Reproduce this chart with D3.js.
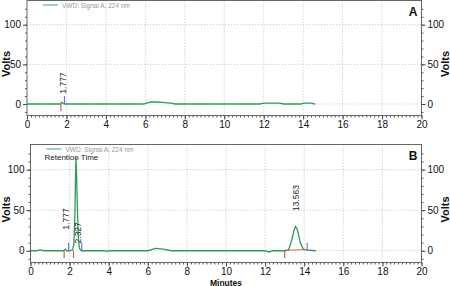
<!DOCTYPE html>
<html><head><meta charset="utf-8">
<script src="https://cdn.jsdelivr.net/npm/d3@7"></script>
<style>body{margin:0;background:#fff}svg{display:block}text{font-family:"Liberation Sans",Arial,sans-serif}</style>
</head><body><svg id="c" width="450" height="286"></svg>
<script>
// ---- data ----
const xTicks = [0,2,4,6,8,10,12,14,16,18,20];
const yTicks = [0,50,100];
const legendText = "VWD: Signal A, 224 nm";

const timeA  = [0,1.70,1.75,1.78,1.83,1.90,5.9,6.1,6.3,6.6,6.9,7.1,7.3,7.5,11.8,12.0,12.8,13.0,13.9,14.0,14.4,14.6];
const valueA = [0,0,1.5,2,1,0,0,1.5,2.5,2.5,2,1.5,1,0,0,1,1,0,0,1,1,0];

const timeB  = [0,0.3,0.5,0.7,1.0,1.7,1.78,1.85,2.0,2.15,2.22,2.27,2.31,2.33,2.36,2.40,2.45,2.50,2.60,3.8,3.9,4.0,6.0,6.4,6.8,7.2,12.0,12.2,12.4,13.0,13.2,13.35,13.5,13.56,13.65,13.8,13.95,14.1,14.6];
const valueB = [0,0,1,0,0,0,2,0,0,1,8,45,100,115,90,50,15,3,0,0,-1,0,0,3,2,0,0,-1.5,0,0,1,12,27,30,26,10,2,1,0];

// peak markers: [time, type] start = red down, end = blue up
const markersA = [[1.72,"s"],[1.90,"e"]];
const markersB = [[1.72,"s"],[1.95,"e"],[2.20,"s"],[2.62,"e"],[13.0,"s"],[14.15,"e"]];
const labelsA = [[1.80,"1.777",13]];
const labelsB = [[1.80,"1.777",26],[2.42,"2.327",9],[13.56,"13.563",49]];
const baselineB = [[13.0,0.5],[14.15,1.5]];

// ---- drawing ----
const svg = d3.select("#c");
const green = "#2f9b5c";

function panel(cfg){
  const x = d3.scaleLinear().domain([0,20]).range([cfg.x0,cfg.x1]);
  const y = d3.scaleLinear().domain([-14.5,cfg.ymax]).range([cfg.y1,cfg.y0]);
  const g = svg.append("g");
  // grid
  g.selectAll(".gx").data(xTicks.slice(1,-1)).join("line")
    .attr("x1",d=>x(d)).attr("x2",d=>x(d)).attr("y1",cfg.y0).attr("y2",cfg.y1)
    .attr("stroke","#bbb").attr("stroke-width",0.8).attr("stroke-dasharray","1.2,1.8");
  g.selectAll(".gy").data(yTicks).join("line")
    .attr("x1",cfg.x0).attr("x2",cfg.x1).attr("y1",d=>y(d)).attr("y2",d=>y(d))
    .attr("stroke","#bbb").attr("stroke-width",0.8).attr("stroke-dasharray","1.2,1.8");
  // axes
  const xa = g.append("g").attr("transform",`translate(0,${cfg.y1})`)
    .call(d3.axisBottom(x).tickValues(d3.range(0,20.01,0.2)).tickSize(2).tickFormat(""));
  xa.select(".domain").remove();
  xa.selectAll("line").attr("stroke","#555");
  const xb = g.append("g").attr("transform",`translate(0,${cfg.y1})`)
    .call(d3.axisBottom(x).tickValues(xTicks).tickSize(4).tickPadding(1.5).tickFormat(d3.format("d")));
  xb.select(".domain").remove();
  xb.selectAll("line").attr("stroke","#444");
  xb.selectAll("text").attr("font-size","10px").attr("fill","#111");
  [["l",d3.axisLeft,cfg.x0],["r",d3.axisRight,cfg.x1]].forEach(([k,fn,px])=>{
    const m = g.append("g").attr("transform",`translate(${px},0)`)
      .call(fn(y).tickValues(d3.range(-10,130,10)).tickSize(2).tickFormat(""));
    m.select(".domain").remove(); m.selectAll("line").attr("stroke","#555");
    const a = g.append("g").attr("transform",`translate(${px},0)`)
      .call(fn(y).tickValues(yTicks).tickSize(4).tickPadding(2));
    a.select(".domain").remove(); a.selectAll("line").attr("stroke","#444");
    a.selectAll("text").attr("font-size","10px").attr("fill","#111");
  });
  // frame
  g.append("rect").attr("x",cfg.x0).attr("y",cfg.y0).attr("width",cfg.x1-cfg.x0).attr("height",cfg.y1-cfg.y0)
    .attr("fill","none").attr("stroke","#666").attr("stroke-width",1);
  // trace
  const line = d3.line().x(d=>x(d[0])).y(d=>y(d[1]));
  const pts = cfg.t.map((t,i)=>[t,cfg.v[i]]);
  g.append("path").attr("d",line(pts)).attr("fill","none").attr("stroke",green).attr("stroke-width",1.3);
  if(cfg.base) g.append("path").attr("d",line(cfg.base)).attr("fill","none").attr("stroke","#e05050").attr("stroke-width",0.9);
  // markers
  g.selectAll(".mk").data(cfg.markers).join("line")
    .attr("x1",d=>x(d[0])).attr("x2",d=>x(d[0]))
    .attr("y1",y(0)).attr("y2",d=>d[1]==="s"?y(-9):y(10))
    .attr("stroke",d=>d[1]==="s"?"#e04848":"#6a6ad8").attr("stroke-width",1.1);
  // labels
  g.selectAll(".pl").data(cfg.labels).join("text")
    .attr("transform",d=>`translate(${x(d[0])+3},${y(d[2])}) rotate(-90)`)
    .attr("font-size","8.5px").attr("fill","#222").text(d=>d[1]);
  // legend
  g.append("line").attr("x1",cfg.x0+16).attr("x2",cfg.x0+31).attr("y1",cfg.y0+4.5).attr("y2",cfg.y0+4.5)
    .attr("stroke","#7cc89a").attr("stroke-width",1.5);
  g.append("text").attr("x",cfg.x0+35).attr("y",cfg.y0+7).attr("font-size","6.5px").attr("fill","#999").text(legendText);
  if(cfg.ret) g.append("text").attr("x",cfg.x0+14).attr("y",cfg.y0+15.5).attr("font-size","8px").attr("fill","#222").text("Retention Time");
  // panel letter
  g.append("text").attr("x",cfg.x1-4).attr("y",cfg.y0+15).attr("text-anchor","end")
    .attr("font-size","12px").attr("font-weight","bold").attr("fill","#111").text(cfg.letter);
  // Volts labels
  const yc = (cfg.y0+cfg.y1)/2 + 6;
  [10,449].forEach(px=>{
    g.append("text").attr("transform",`translate(${px},${yc}) rotate(-90)`).attr("text-anchor","middle")
      .attr("font-size","11px").attr("font-weight","bold").attr("fill","#111").text("Volts");
  });
}

panel({x0:27,x1:421.5,y0:0.5,y1:115.5,ymax:130.5,t:timeA,v:valueA,markers:markersA,labels:labelsA,letter:"A"});
panel({x0:30.5,x1:421.5,y0:144.5,y1:262.5,ymax:131,t:timeB,v:valueB,markers:markersB,labels:labelsB,base:baselineB,letter:"B",ret:true});

svg.append("text").attr("x",226).attr("y",285.5).attr("text-anchor","middle")
  .attr("font-size","8.5px").attr("font-weight","bold").attr("fill","#111").text("Minutes");
</script></body></html>
